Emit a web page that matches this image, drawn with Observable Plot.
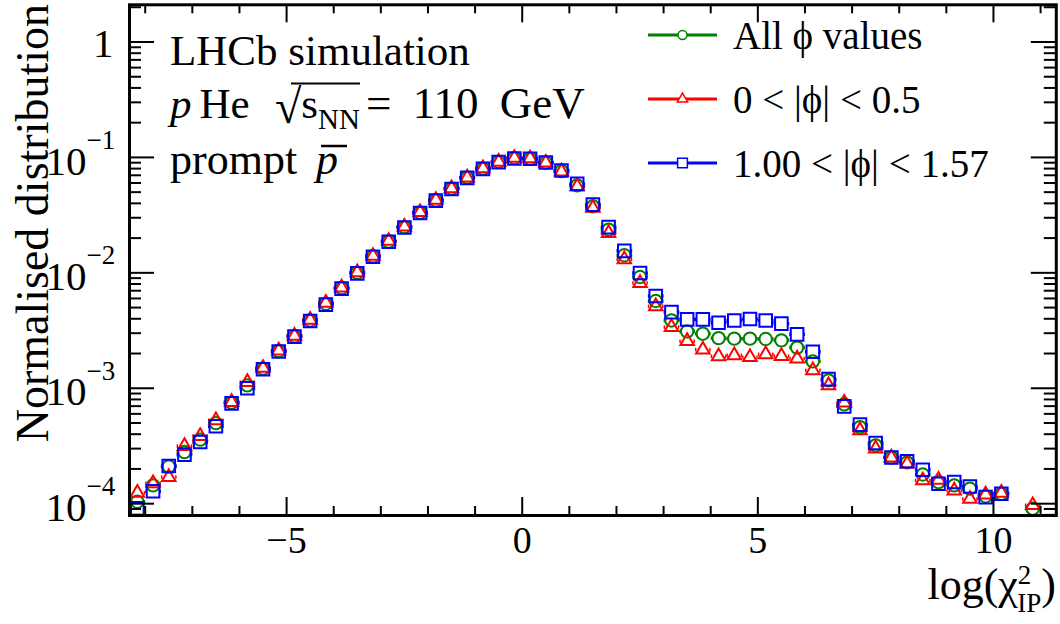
<!DOCTYPE html>
<html><head><meta charset="utf-8">
<script src="https://cdn.jsdelivr.net/npm/d3@7"></script>
<script src="https://cdn.jsdelivr.net/npm/@observablehq/plot@0.6"></script>
<style>body{margin:0;background:#fff} svg{display:block}</style>
</head><body><div id="chart"></div>
<script>
// log(chi2_IP) bin centres (bin width 1/3)
const binCenters = [-8.167,-7.833,-7.5,-7.167,-6.833,-6.5,-6.167,-5.833,-5.5,-5.167,
  -4.833,-4.5,-4.167,-3.833,-3.5,-3.167,-2.833,-2.5,-2.167,-1.833,
  -1.5,-1.167,-0.833,-0.5,-0.167,0.167,0.5,0.833,1.167,1.5,
  1.833,2.167,2.5,2.833,3.167,3.5,3.833,4.167,4.5,4.833,
  5.167,5.5,5.833,6.167,6.5,6.833,7.167,7.5,7.833,8.167,
  8.5,8.833,9.167,9.5,9.833,10.167,10.5,10.833];
const binWidth = 1/3;

const allPhi = [1.04e-4,1.44e-4,2.1e-4,2.80e-4,3.59e-4,4.99e-4,7.5e-4,1.06e-3,1.48e-3,2.10e-3,
  2.82e-3,3.87e-3,5.4e-3,7.38e-3,1.00e-2,1.39e-2,1.87e-2,2.49e-2,3.32e-2,4.25e-2,
  5.37e-2,6.68e-2,8.0e-2,9.12e-2,9.85e-2,9.77e-2,9.0e-2,7.62e-2,5.73e-2,3.77e-2,
  2.37e-2,1.42e-2,9.2e-3,5.7e-3,3.87e-3,3.11e-3,2.97e-3,2.72e-3,2.69e-3,2.69e-3,
  2.67e-3,2.60e-3,2.25e-3,1.71e-3,1.17e-3,7.26e-4,4.61e-4,3.20e-4,2.51e-4,2.28e-4,
  1.79e-4,1.54e-4,1.44e-4,1.35e-4,1.16e-4,1.22e-4,null,9.05e-5];
const phiLow = [1.24e-4,1.50e-4,1.70e-4,3.16e-4,3.85e-4,5.27e-4,7.6e-4,1.13e-3,1.50e-3,2.12e-3,
  2.85e-3,3.92e-3,5.5e-3,7.45e-3,1.01e-2,1.40e-2,1.89e-2,2.51e-2,3.35e-2,4.28e-2,
  5.4e-2,6.7e-2,8.05e-2,9.15e-2,9.9e-2,9.8e-2,9.0e-2,7.55e-2,5.6e-2,3.65e-2,
  2.21e-2,1.31e-2,8.16e-3,5.13e-3,3.39e-3,2.56e-3,2.16e-3,1.89e-3,1.93e-3,1.86e-3,
  1.97e-3,1.90e-3,1.81e-3,1.43e-3,1.06e-3,7.5e-4,4.32e-4,3.0e-4,2.51e-4,2.22e-4,
  1.59e-4,1.61e-4,1.30e-4,1.10e-4,1.20e-4,1.24e-4,null,9.7e-5];
const phiHigh = [0.91e-4,1.28e-4,2.12e-4,2.66e-4,3.42e-4,4.68e-4,7.4e-4,1.00e-3,1.46e-3,2.08e-3,
  2.80e-3,3.83e-3,5.3e-3,7.3e-3,9.9e-3,1.38e-2,1.86e-2,2.47e-2,3.30e-2,4.22e-2,
  5.33e-2,6.65e-2,7.95e-2,9.1e-2,9.8e-2,9.75e-2,9.05e-2,7.7e-2,5.9e-2,3.90e-2,
  2.49e-2,1.55e-2,9.96e-3,6.3e-3,4.57e-3,3.95e-3,3.95e-3,3.70e-3,3.87e-3,3.98e-3,
  3.87e-3,3.63e-3,2.93e-3,2.07e-3,1.20e-3,6.97e-4,4.84e-4,3.35e-4,2.51e-4,2.33e-4,
  1.97e-4,1.49e-4,1.54e-4,1.41e-4,1.14e-4,1.22e-4,null,null];

const seriesLabels = ["All ϕ values", "0 < |ϕ| < 0.5", "1.00 < |ϕ| < 1.57"];
const seriesColors = ["#008000", "#ff0000", "#0000ff"];
const seriesSymbols = ["circle", "triangle", "square"];
const seriesR = [6.2, 5.0, 7.1];

const xTicks = [-5, 0, 5, 10];
const xMinorTicks = [-8,-7,-6,-4,-3,-2,-1,1,2,3,4,6,7,8,9,11];
const yDecades = [1e-4, 1e-3, 1e-2, 1e-1];
const yDecadeExponent = ["−4", "−3", "−2", "−1"];
const yOne = [1];
const yTicks = [...yDecades, ...yOne];
const yMinorMantissa = [2,3,4,5,6,7,8,9];
const yMinorTicks = [];
for (const e of [-5,-4,-3,-2,-1,0]) for (const m of yMinorMantissa) yMinorTicks.push(m * Math.pow(10, e));

const series = [allPhi, phiLow, phiHigh];
const rows = [];
series.forEach((vals, s) => vals.forEach((v, i) => { if (v != null) rows.push({x: binCenters[i], y: v, s}); }));

const W = 1060, H = 624, mL = 129, mR = 4.2, mT = 4.3, mB = 109;
const fw = W - mL - mR, fh = H - mT - mB;
const yDomain = [7.9e-5, 2.1];
const serif = "'Liberation Serif','Times New Roman',serif";
const gap = 0.135; // where the error bar meets the hollow marker

const marks = [];
[0, 1, 2].forEach(s => {
  const d = rows.filter(r => r.s === s);
  marks.push(Plot.link(d, {x1: r => r.x - binWidth / 2, x2: r => r.x - gap, y1: "y", y2: "y", stroke: seriesColors[s], strokeWidth: 3.5}));
  marks.push(Plot.link(d, {x1: r => r.x + gap, x2: r => r.x + binWidth / 2, y1: "y", y2: "y", stroke: seriesColors[s], strokeWidth: 3.5}));
});
[0, 1, 2].forEach(s => {
  const d = rows.filter(r => r.s === s);
  marks.push(Plot.dot(d, {x: "x", y: "y", symbol: seriesSymbols[s], r: seriesR[s], stroke: seriesColors[s], strokeWidth: 2, fill: "none"}));
});

// inward ticks on all four sides
const minorY = yMinorTicks.filter(v => v >= yDomain[0] && v <= yDomain[1]);
marks.push(Plot.ruleX(xTicks, {x: d => d, insetTop: fh - 18, stroke: "black", strokeWidth: 2}));
marks.push(Plot.ruleX(xTicks, {x: d => d, insetBottom: fh - 18, stroke: "black", strokeWidth: 2}));
marks.push(Plot.ruleX(xMinorTicks, {x: d => d, insetTop: fh - 9, stroke: "black", strokeWidth: 2}));
marks.push(Plot.ruleX(xMinorTicks, {x: d => d, insetBottom: fh - 9, stroke: "black", strokeWidth: 2}));
marks.push(Plot.ruleY(yTicks, {y: d => d, insetRight: fw - 25, stroke: "black", strokeWidth: 2}));
marks.push(Plot.ruleY(yTicks, {y: d => d, insetLeft: fw - 25, stroke: "black", strokeWidth: 2}));
marks.push(Plot.ruleY(minorY, {y: d => d, insetRight: fw - 12, stroke: "black", strokeWidth: 2}));
marks.push(Plot.ruleY(minorY, {y: d => d, insetLeft: fw - 12, stroke: "black", strokeWidth: 2}));
marks.push(Plot.frame({stroke: "black", strokeWidth: 3}));

// axis tick labels
marks.push(Plot.axisX(xTicks, {tickSize: 0, tickPadding: 11, fontSize: 38, label: null,
  tickFormat: d => (d < 0 ? "−" : "") + Math.abs(d)}));
marks.push(Plot.text(yDecades, {y: d => d, frameAnchor: "left", text: () => "10",
  textAnchor: "end", dx: -43, dy: 4, fontSize: 41, fill: "black"}));
marks.push(Plot.text(yDecades, {y: d => d, frameAnchor: "left", text: (d, i) => yDecadeExponent[i],
  textAnchor: "start", dx: -43, dy: -17, fontSize: 27, fill: "black"}));
marks.push(Plot.text(yOne, {y: d => d, frameAnchor: "left", text: () => "1",
  textAnchor: "end", dx: -16, dy: 2, fontSize: 41, fill: "black"}));

const chart = Plot.plot({
  width: W, height: H,
  marginLeft: mL, marginRight: mR, marginTop: mT, marginBottom: mB,
  style: {fontFamily: serif, color: "black", background: "white", overflow: "visible"},
  x: {domain: [-25/3, 34/3], axis: null},
  y: {type: "log", domain: yDomain, axis: null},
  marks
});
document.getElementById("chart").appendChild(chart);

// annotations: axis titles, legend, LHCb label
const svg = d3.select(chart);
const g = svg.append("g").attr("font-family", serif).attr("fill", "black").attr("text-anchor", "start");

g.append("text").attr("transform", "translate(48,4) rotate(-90)").attr("text-anchor", "end")
  .attr("font-size", 46).text("Normalised distribution");

const xt = g.append("text").attr("x", 1056).attr("y", 599).attr("text-anchor", "end").attr("font-size", 44);
xt.append("tspan").text("log(χ");
xt.append("tspan").attr("font-size", 27).attr("dy", -15).text("2");
xt.append("tspan").attr("font-size", 27).attr("dx", -14).attr("dy", 28).text("IP");
xt.append("tspan").attr("dy", -13).text(")");

// LHCb label block
g.append("text").attr("x", 170).attr("y", 65).attr("font-size", 43).text("LHCb simulation");
const l2 = g.append("text").attr("x", 170).attr("y", 118).attr("font-size", 43);
l2.append("tspan").attr("font-style", "italic").text("p");
l2.append("tspan").attr("dx", 8).text("He");
l2.append("tspan").attr("x", 275).attr("font-size", 48).attr("dy", 5).text("√");
l2.append("tspan").attr("dy", -5).text("s");
l2.append("tspan").attr("font-size", 29).attr("dy", 11).text("NN");
l2.append("tspan").attr("x", 366).attr("dy", -11).attr("font-size", 45).attr("word-spacing", 10).text("= 110 GeV");
g.append("line").attr("x1", 291).attr("x2", 360).attr("y1", 83.5).attr("y2", 83.5).attr("stroke", "black").attr("stroke-width", 2);
const l3 = g.append("text").attr("x", 170).attr("y", 174).attr("font-size", 44);
l3.append("tspan").text("prompt");
l3.append("tspan").attr("x", 316).attr("font-style", "italic").text("p");
g.append("line").attr("x1", 321).attr("x2", 347).attr("y1", 146).attr("y2", 146).attr("stroke", "black").attr("stroke-width", 2.5);

// legend
const legY = [35, 99, 163];
const legendSym = {
  circle: d3.symbol(d3.symbolCircle, Math.PI * 4.5 * 4.5)(),
  triangle: d3.symbol(d3.symbolTriangle, Math.PI * 3.8 * 3.8)(),
  square: d3.symbol(d3.symbolSquare, Math.PI * 5.5 * 5.5)()
};
seriesLabels.forEach((lab, i) => {
  g.append("line").attr("x1", 648).attr("x2", 717).attr("y1", legY[i]).attr("y2", legY[i])
    .attr("stroke", seriesColors[i]).attr("stroke-width", 3);
  g.append("path").attr("d", legendSym[seriesSymbols[i]]).attr("transform", `translate(682.5,${legY[i]})`)
    .attr("fill", "white").attr("stroke", seriesColors[i]).attr("stroke-width", 1.5);
  g.append("text").attr("x", 733).attr("y", legY[i] + 14).attr("font-size", 39).text(lab);
});
</script></body></html>
